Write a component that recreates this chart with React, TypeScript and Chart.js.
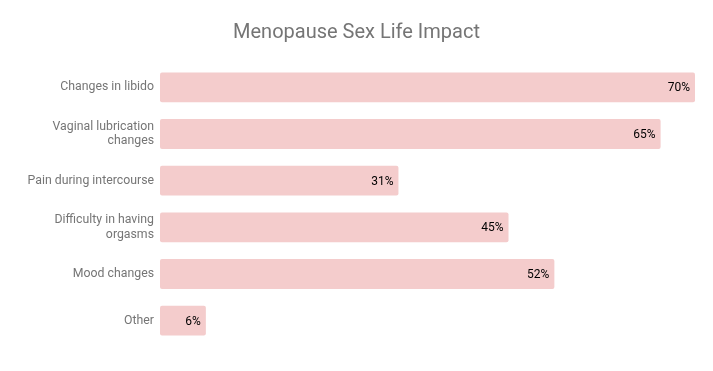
import React, { useEffect, useRef } from "react";
import { Chart, registerables } from "chart.js";

Chart.register(...registerables);

const categories: (string | string[])[] = [
  "Changes in libido",
  ["Vaginal lubrication", "changes"],
  "Pain during intercourse",
  ["Difficulty in having", "orgasms"],
  "Mood changes",
  "Other",
];
const values: number[] = [70, 65.5, 31.2, 45.6, 51.6, 6.0];
const valueLabels: string[] = ["70%", "65%", "31%", "45%", "52%", "6%"];
const titleText = "Menopause Sex Life Impact";

const valueLabelPlugin = {
  id: "valueLabels",
  afterDatasetsDraw(chart: any) {
    const ctx = chart.ctx;
    const meta = chart.getDatasetMeta(0);
    ctx.save();
    ctx.font = "12px Roboto";
    ctx.fillStyle = "#000000";
    ctx.textAlign = "right";
    ctx.textBaseline = "middle";
    meta.data.forEach((bar: any, i: number) => {
      ctx.fillText(valueLabels[i], bar.x - 5, bar.y + 1);
    });
    ctx.restore();
  },
};

export default function App() {
  const ref = useRef<HTMLCanvasElement | null>(null);
  useEffect(() => {
    if (!ref.current) return;
    const chart = new Chart(ref.current, {
      type: "bar",
      data: {
        labels: categories,
        datasets: [
          {
            data: values,
            backgroundColor: "#f4cccc",
            borderRadius: 2,
            borderSkipped: false,
            barPercentage: 0.64,
            categoryPercentage: 1,
          },
        ],
      },
      options: {
        indexAxis: "y",
        animation: false,
        responsive: true,
        maintainAspectRatio: false,
        layout: { padding: { top: 0, right: 18, bottom: 27, left: 18 } },
        plugins: {
          legend: { display: false },
          tooltip: { enabled: false },
          title: {
            display: true,
            text: titleText,
            color: "#757575",
            font: { family: "Roboto", size: 20, weight: "normal" },
            padding: { top: 21, bottom: 19 },
          },
        },
        scales: {
          x: { display: false, min: 0, max: 70 },
          y: {
            grid: { display: false, drawTicks: false },
            border: { display: false },
            ticks: {
              color: "#757575",
              font: { family: "Roboto", size: 12.3 },
              padding: 6,
            },
            afterFit(scale: any) {
              scale.width = 142;
            },
          },
        },
      },
      plugins: [valueLabelPlugin],
    });
    return () => chart.destroy();
  }, []);
  return (
    <div style={{ position: "absolute", left: 0, top: 0, width: 713, height: 371, background: "#ffffff" }}>
      <canvas ref={ref} />
    </div>
  );
}
